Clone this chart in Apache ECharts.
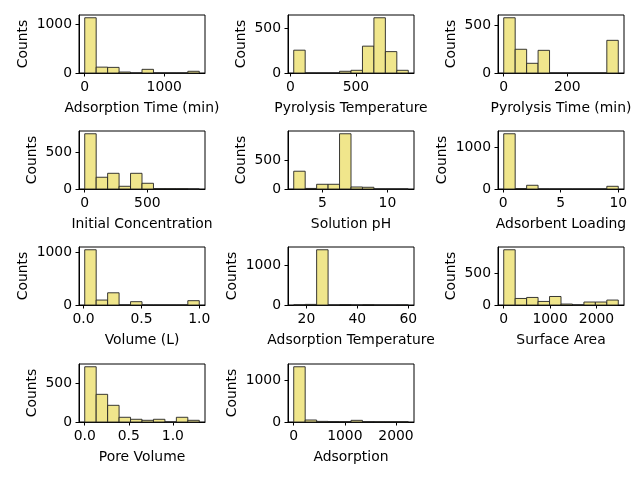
<!DOCTYPE html>
<html><head><meta charset="utf-8">
<script src="https://cdn.jsdelivr.net/npm/echarts@6/dist/echarts.min.js"></script>
<style>html,body{margin:0;padding:0;background:#fff}#c{width:640px;height:480px}</style>
</head><body><div id="c"></div>
<script>
// ---- data ----
const xLabels = ['Adsorption Time (min)', 'Pyrolysis Temperature', 'Pyrolysis Time (min)',
  'Initial Concentration', 'Solution pH', 'Adsorbent Loading',
  'Volume (L)', 'Adsorption Temperature', 'Surface Area',
  'Pore Volume', 'Adsorption'];
// data min / max of each variable (10 equal bins between them)
const binRanges = [[0, 1440], [25, 900], [0, 360], [0, 915], [2.8, 11.6], [0.05, 10],
  [0.01, 1.0], [15, 60], [0, 2470], [0, 1.3], [0, 2240]];
const countsAdsorptionTime = [1130, 120, 115, 20, 0, 75, 0, 0, 0, 35];
const countsPyrolysisTemp = [254, 0, 0, 0, 19, 30, 299, 615, 238, 30];
const countsPyrolysisTime = [575, 247, 101, 236, 0, 0, 0, 0, 0, 340];
const countsInitialConc = [753, 160, 214, 37, 214, 78, 5, 5, 5, 0];
const countsSolutionPH = [309, 10, 82, 82, 960, 35, 30, 0, 0, 0];
const countsAdsorbentLoading = [1335, 10, 90, 0, 0, 0, 0, 0, 0, 65];
const countsVolume = [1050, 94, 232, 0, 63, 0, 0, 0, 0, 82];
const countsAdsorptionTemp = [2, 15, 1380, 0, 12, 0, 10, 0, 0, 2];
const countsSurfaceArea = [870, 103, 119, 56, 134, 15, 0, 47, 47, 78];
const countsPoreVolume = [715, 358, 216, 61, 35, 22, 35, 0, 61, 22];
const countsAdsorption = [1330, 48, 15, 12, 10, 40, 10, 8, 8, 8];
const allCounts = [countsAdsorptionTime, countsPyrolysisTemp, countsPyrolysisTime,
  countsInitialConc, countsSolutionPH, countsAdsorbentLoading,
  countsVolume, countsAdsorptionTemp, countsSurfaceArea,
  countsPoreVolume, countsAdsorption];
const xTicks = [[0, 1000], [0, 500], [0, 200], [0, 500], [5, 10], [0, 5, 10],
  [0, 0.5, 1.0], [20, 40, 60], [0, 1000, 2000], [0, 0.5, 1.0], [0, 1000, 2000]];
const yTicks = [[0, 1000], [0, 500], [0, 500], [0, 500], [0, 500], [0, 1000],
  [0, 1000], [0, 1000], [0, 500], [0, 500], [0, 1000]];
const decimalX = [false, false, false, false, false, false, true, false, false, true, false];

// ---- layout ----
const colLeft = [79, 288, 498];
const rowTop = [15, 131, 247, 364];
const W = 126, H = 58;
const FONT = 'DejaVu Sans';
const FS = 13.9;

const grids = [], xAxes = [], yAxes = [], series = [];
allCounts.forEach((counts, i) => {
  const r = Math.floor(i / 3), c = i % 3;
  grids.push({left: colLeft[c], top: rowTop[r], width: W, height: H,
    show: true, borderColor: '#000', borderWidth: 1, backgroundColor: 'transparent', containLabel: false});
  const [lo, hi] = binRanges[i];
  const R = hi - lo;
  const bw = R / counts.length;
  const data = counts.map((v, k) => [lo + k * bw, lo + (k + 1) * bw, v]);
  const ymax = Math.max(...counts) * 1.05;
  const maxLabelLen = Math.max(...yTicks[i].map(v => String(v).length));
  xAxes.push({type: 'value', gridIndex: i, min: lo - 0.05 * R, max: hi + 0.05 * R,
    splitLine: {show: false},
    axisLine: {show: true, onZero: false, lineStyle: {color: '#000', width: 1}},
    axisTick: {show: true, length: 3.5, lineStyle: {color: '#000'}, customValues: xTicks[i]},
    axisLabel: {show: true, color: '#000', fontFamily: FONT, fontSize: FS, margin: 7,
      customValues: xTicks[i],
      formatter: v => decimalX[i] ? Number(v).toFixed(1) : String(v)},
    name: xLabels[i], nameLocation: 'middle', nameGap: 28,
    nameTextStyle: {color: '#000', fontFamily: FONT, fontSize: FS}});
  yAxes.push({type: 'value', gridIndex: i, min: 0, max: ymax,
    splitLine: {show: false},
    axisLine: {show: true, onZero: false, lineStyle: {color: '#000', width: 1}},
    axisTick: {show: true, length: 3.5, lineStyle: {color: '#000'}, customValues: yTicks[i]},
    axisLabel: {show: true, color: '#000', fontFamily: FONT, fontSize: FS, margin: 7,
      customValues: yTicks[i], formatter: v => String(v)},
    name: 'Counts', nameLocation: 'middle', nameRotate: 90,
    nameGap: 13 + maxLabelLen * 8.85,
    nameTextStyle: {color: '#000', fontFamily: FONT, fontSize: FS}});
  series.push({type: 'custom', xAxisIndex: i, yAxisIndex: i, data: data,
    encode: {x: [0, 1], y: 2},
    renderItem: function (params, api) {
      const p0 = api.coord([api.value(0), api.value(2)]);
      const p1 = api.coord([api.value(1), 0]);
      return {type: 'rect',
        shape: {x: p0[0], y: p0[1], width: p1[0] - p0[0], height: p1[1] - p0[1]},
        style: {fill: '#F0E68C', stroke: '#222', lineWidth: 0.9}};
    }});
});

const chart = echarts.init(document.getElementById('c'), null, {renderer: 'canvas'});
chart.setOption({animation: false, backgroundColor: '#fff',
  grid: grids, xAxis: xAxes, yAxis: yAxes, series: series});
</script></body></html>
